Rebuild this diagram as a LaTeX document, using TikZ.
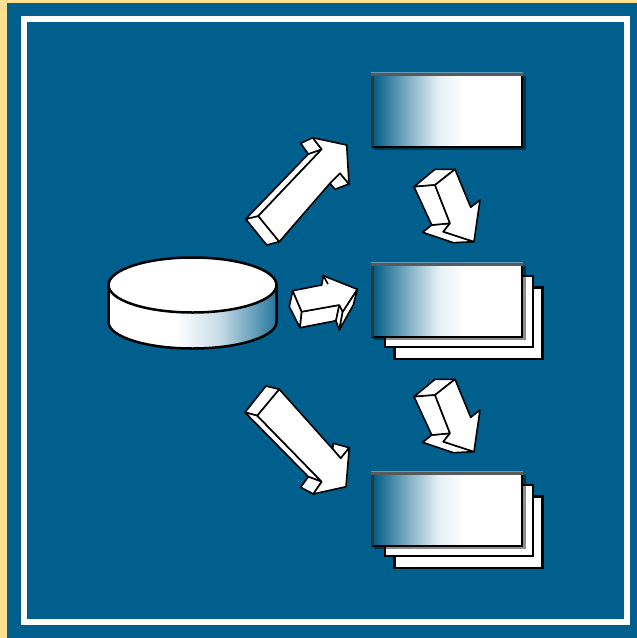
\documentclass[tikz,border=0pt]{standalone}
\usepackage{tikz}
\definecolor{nenxanh}{RGB}{0,95,140}
\definecolor{vienvang}{RGB}{255,223,145}
\definecolor{vienhop}{RGB}{100,155,185}
\pgfdeclarehorizontalshading{hopshade}{100bp}{color(0bp)=(nenxanh!95!black); color(25bp)=(nenxanh!95!black); color(37bp)=(nenxanh!50!white); color(47bp)=(nenxanh!10!white); color(56bp)=(white); color(100bp)=(white)}
\pgfdeclarehorizontalshading{trushade}{100bp}{color(0bp)=(white); color(25bp)=(white); color(45bp)=(white); color(58bp)=(nenxanh!22!white); color(75bp)=(nenxanh!85!white); color(100bp)=(nenxanh!85!white)}
\tikzset{
  mat/.style={draw=black, fill=white, line width=1.6pt, line join=round},
  tru/.style={draw=black, line width=2.5pt, line join=round},
  tam/.style={draw=black, fill=white, line width=2.8pt, line join=miter},
  bong/.style={fill=black, opacity=0.45}
}
\begin{document}
\begin{tikzpicture}[x=1pt, y=-1pt]
  \useasboundingbox (0,0) rectangle (637,638);
  % 1. Nen va khung
  \fill[vienvang] (0,0) rectangle (637,638);
  \fill[nenxanh] (7,3) rectangle (637,638);
  \draw[white, line width=5.5pt] (24,19) rectangle (627,622);
  % 2. Khoi tru
  \coordinate (TruTrai) at (108.5,285);
  \coordinate (TruPhai) at (276.5,285);
  \path[shading=trushade] (TruTrai) -- (108.5,322) arc[start angle=180, end angle=0, x radius=84, y radius=26.5] -- (TruPhai) -- cycle;
  \draw[tru] (TruTrai) -- (108.5,322) arc[start angle=180, end angle=0, x radius=84, y radius=26.5] -- (TruPhai);
  \draw[tru, fill=white] (192.5,285) ellipse[x radius=84, y radius=27.5];
  % 3. Mui ten len tren
  \draw[mat] (245.7,219) -- (266.7,245) -- (279.3,241.7) -- (258.3,216) -- cycle;
  \draw[mat] (245.7,219) -- (308.3,154) -- (321.7,149.3) -- (258.3,216) -- cycle;
  \draw[mat] (300.7,143.3) -- (312.7,137.7) -- (321.7,149.3) -- (308.3,154) -- cycle;
  \draw[mat] (340,173.3) -- (349,184) -- (335,189.3) -- (330,183.3) -- cycle;
  \draw[mat] (258.3,216) -- (321.7,149.3) -- (312.7,137.7) -- (346.7,145) -- (349,184) -- (340,173.3) -- (330,183.3) -- (279.3,241.7) -- cycle;
  % 4. Mui ten giua
  \draw[mat] (292.7,290.7) -- (289.3,306.7) -- (300,327.7) -- (301.7,311.7) -- cycle;
  \draw[mat] (301.7,311.7) -- (300,327.7) -- (336,320.7) -- (339.3,305) -- cycle;
  \draw[mat] (339.3,305) -- (342.7,311.7) -- (339.3,330) -- (336,320.7) -- cycle;
  \draw[mat] (342.7,311.7) -- (357.3,289.3) -- (353.3,305) -- (339.3,330) -- cycle;
  \draw[mat] (292.7,290.7) -- (321.7,285) -- (323.3,275.7) -- (357.3,289.3) -- (342.7,311.7) -- (339.3,305) -- (301.7,311.7) -- cycle;
  \draw[mat] (321.7,285) -- (323.3,275.7) -- (328,284);
  % 5. Mui ten xuong duoi
  \draw[mat] (245,412.3) -- (266,386) -- (279.3,389.3) -- (257.3,415.7) -- cycle;
  \draw[mat] (245,412.3) -- (257.3,415.7) -- (321.7,481.7) -- (308.3,476.7) -- cycle;
  \draw[mat] (300.7,487.3) -- (308.3,476.7) -- (321.7,481.7) -- (313.3,494) -- cycle;
  \draw[mat] (333.3,443.3) -- (349.3,447.7) -- (340.7,458.3) -- (332.7,449) -- cycle;
  \draw[mat] (257.3,415.7) -- (279.3,389.3) -- (332.7,449) -- (340.7,458.3) -- (349.3,447.7) -- (346,486.7) -- (313.3,494) -- (321.7,481.7) -- cycle;
  % 6. Hai mui ten giua cac hop
  \foreach \dy in {0,210} {
    \begin{scope}[yshift=-\dy pt]
      \draw[mat] (422.7,232.3) -- (431.7,225) -- (450,223.3) -- (443.3,231.7) -- (474,241.7) -- (453.3,242.7) -- cycle;
      \draw[mat] (414,186.7) -- (435,169.3) -- (455,169.3) -- (435,185) -- cycle;
      \draw[mat] (414,186.7) -- (435,185) -- (450,223.3) -- (431.7,225) -- cycle;
      \draw[mat] (435,185) -- (455,169.3) -- (470.7,207.3) -- (480,200) -- (474,241.7) -- (443.3,231.7) -- (450,223.3) -- cycle;
    \end{scope}
  }
  % 7. Hai chong giay phia sau
  \foreach \dy in {0,209} {
    \begin{scope}[yshift=-\dy pt]
      \draw[tam] (394.5,287.5) rectangle (542.5,359);
      \draw[tam] (385,276) rectangle (533,347);
    \end{scope}
  }
  % 8. Ba hop co to mau chuyen sac
  \foreach \dy in {-190,0,209} {
    \begin{scope}[yshift=-\dy pt]
      \fill[bong] (374,266) rectangle (526,340);
      \fill[vienhop] (370.5,261.5) rectangle (522.5,265);
      \fill[vienhop] (370.5,261.5) rectangle (372.5,337);
      \path[shading=hopshade] (372.5,264.5) rectangle (522,337);
      \draw[black, line width=2.5pt, line cap=round] (522,264.5) -- (522,337) -- (372.5,337);
      \draw[black!80, line width=2.2pt] (372.5,337) -- (372.5,264.5);
      \draw[black!65, line width=2.2pt] (371.4,264.5) -- (523,264.5);
    \end{scope}
  }
\end{tikzpicture}
\end{document}
